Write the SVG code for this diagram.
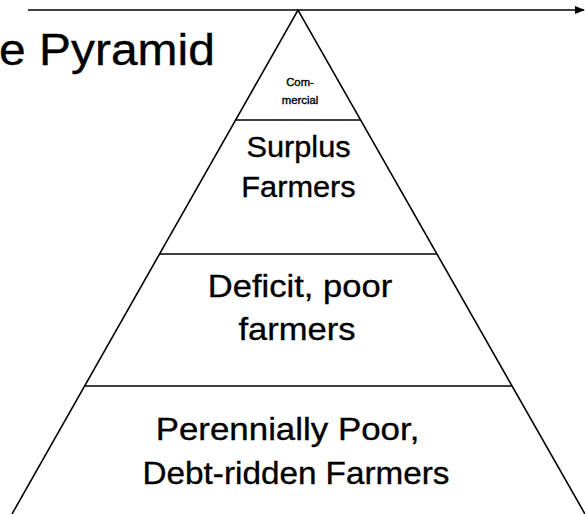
<svg xmlns="http://www.w3.org/2000/svg" width="585" height="514" viewBox="0 0 585 514">
<style>
.ln{stroke:#000;stroke-width:1.6;fill:none}
.t{font-family:"Liberation Sans",Arial,sans-serif;fill:#000;stroke:#000;stroke-width:0.35;text-anchor:middle}
</style>
<defs>
<marker id="ah" markerWidth="10" markerHeight="8" refX="9" refY="4" orient="auto" markerUnits="userSpaceOnUse">
<path d="M0,0 L10,4 L0,8 Z" fill="#000"/>
</marker>
</defs>
<rect width="585" height="514" fill="#fff"/>
<g id="connectors">
<line class="ln" x1="28" y1="10" x2="584" y2="10" marker-end="url(#ah)"/>
</g>
<g id="title">
<text transform="translate(-1,65) scale(1.09,1)" font-family="Liberation Sans, Arial, sans-serif" font-size="44" fill="#000" stroke="#000" stroke-width="0.35">e Pyramid</text>
</g>
<g id="pyramid">
<polyline class="ln" points="12,514 298,10 585,514"/>
</g>
<g id="commercial">
<text class="t" transform="translate(300,86) scale(1.08,1)" font-size="10.5">Com-</text>
<text class="t" transform="translate(300,104) scale(1.08,1)" font-size="10.5">mercial</text>
</g>
<g id="surplus">
<line class="ln" x1="235.6" y1="120" x2="360.6" y2="120"/>
<text class="t" transform="translate(298.5,157) scale(1.06,1)" font-size="29">Surplus</text>
<text class="t" transform="translate(298.5,197) scale(1.06,1)" font-size="29">Farmers</text>
</g>
<g id="deficit">
<line class="ln" x1="159.7" y1="254" x2="436.8" y2="254"/>
<text class="t" transform="translate(300,297) scale(1.08,1)" font-size="32">Deficit, poor</text>
<text class="t" transform="translate(297,340) scale(1.08,1)" font-size="32">farmers</text>
</g>
<g id="perennial">
<line class="ln" x1="84.8" y1="386" x2="512" y2="386"/>
<text class="t" transform="translate(287.5,440) scale(1.09,1)" font-size="32">Perennially Poor,</text>
<text class="t" transform="translate(296,484) scale(1.04,1)" font-size="32">Debt-ridden Farmers</text>
</g>
</svg>
